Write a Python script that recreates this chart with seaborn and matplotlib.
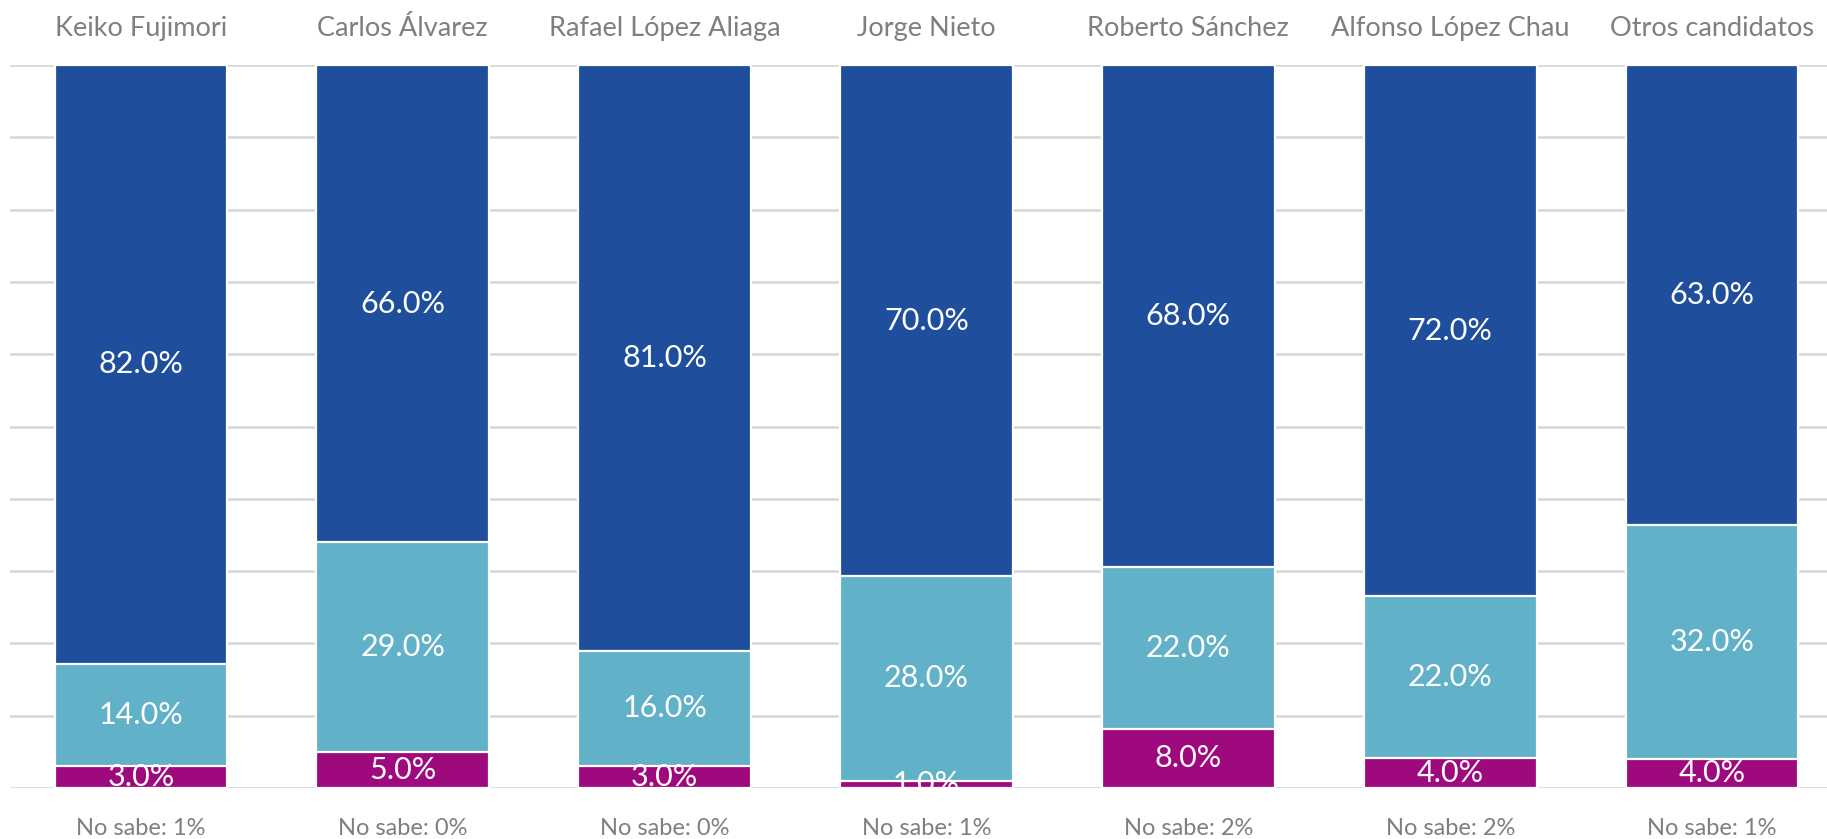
import numpy as np
import pandas as pd
import matplotlib
matplotlib.use("Agg")
import matplotlib.pyplot as plt
import seaborn as sns

# Data
candidatos = ["Keiko Fujimori", "Carlos Álvarez", "Rafael López Aliaga", "Jorge Nieto",
              "Roberto Sánchez", "Alfonso López Chau", "Otros candidatos"]
serie_baja = [3, 5, 3, 1, 8, 4, 4]          # magenta
serie_media = [14, 29, 16, 28, 22, 22, 32]  # light blue
serie_alta = [82, 66, 81, 70, 68, 72, 63]   # dark blue
no_sabe = [1, 0, 0, 1, 2, 2, 1]

c_baja = "#9E0A7E"
c_media = "#61B1C8"
c_alta = "#1F4F9C"
gris = "#7F7F7F"

sns.set_style("white")
plt.rcParams["font.family"] = ["Lato", "DejaVu Sans"]

df = pd.DataFrame({"cand": candidatos, "baja": serie_baja,
                   "media": serie_media, "alta": serie_alta})
total = df[["baja", "media", "alta"]].sum(axis=1)
# 100% stacked: share of each segment
df["p_baja"] = df["baja"] / total * 100
df["p_media"] = df["media"] / total * 100
df["p_alta"] = df["alta"] / total * 100
df["cum_media"] = df["p_baja"] + df["p_media"]
df["cum_alta"] = df["cum_media"] + df["p_alta"]

fig = plt.figure(figsize=(18.27, 8.39), dpi=100)
ax = fig.add_axes([10 / 1827, 1 - 788 / 839, 1833 / 1827, 723 / 839])

kw = dict(width=0.66, edgecolor="white", linewidth=1.6, ax=ax, zorder=3)
sns.barplot(data=df, x="cand", y="cum_alta", color=c_alta, saturation=1, **kw)
sns.barplot(data=df, x="cand", y="cum_media", color=c_media, saturation=1, **kw)
sns.barplot(data=df, x="cand", y="p_baja", color=c_baja, saturation=1, **kw)

ax.set_xlim(-0.5, 6.5)
ax.set_ylim(0, 100)
ax.set_yticks(np.arange(0, 101, 10))
ax.yaxis.grid(True, color="#D9D9D9", linewidth=2)
ax.set_axisbelow(True)
for s in ax.spines.values():
    s.set_visible(False)
ax.set_ylabel("")
ax.set_xlabel("")
ax.tick_params(left=False, labelleft=False, bottom=False, top=False,
               labelbottom=False, labeltop=True, pad=14)
ax.set_xticks(range(len(candidatos)))
ax.set_xticklabels(candidatos, fontsize=19.5, color=gris)

# Segment labels
for i, row in df.iterrows():
    for lo, hi, val in [(0, row["p_baja"], row["baja"]),
                        (row["p_baja"], row["cum_media"], row["media"]),
                        (row["cum_media"], row["cum_alta"], row["alta"])]:
        ax.text(i, (lo + hi) / 2, f"{val:.1f}%", ha="center", va="center",
                color="white", fontsize=22, zorder=5, clip_on=True)
    ax.text(i, -5.6, f"No sabe: {no_sabe[i]}%", ha="center", va="center",
            color=gris, fontsize=17, clip_on=False)

fig.savefig("out.png", dpi=100)
